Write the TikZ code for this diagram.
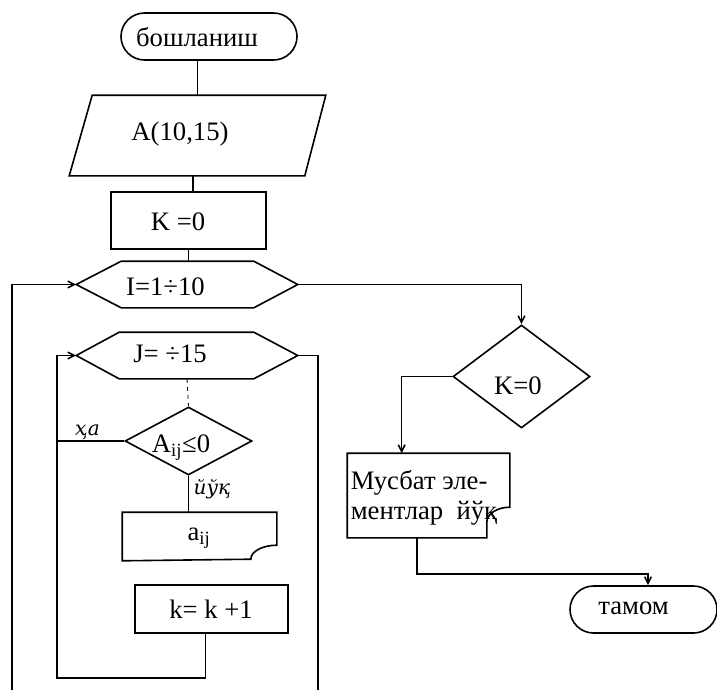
\documentclass[tikz,border=0pt]{standalone}
\usepackage{fontspec}
\setmainfont{Liberation Serif}
\newfontfamily\handfont{DejaVu Serif}
\usetikzlibrary{shapes.geometric,shapes.misc,arrows.meta,calc}

\begin{document}
\begin{tikzpicture}[x=0.75pt,y=-0.75pt,
  line width=1.2pt,
  >={Straight Barb[length=5pt,width=5pt]},
  box/.style={draw, rectangle, inner sep=0pt},
  frame/.style={rectangle, inner sep=0pt},
  term/.style={draw, rounded rectangle, inner sep=0pt},
  cond/.style={draw, diamond, inner sep=0pt},
  lbl/.style={inner sep=0pt, font=\fontsize{20}{24}\selectfont},
  hand/.style={inner sep=0pt, font=\handfont\itshape\fontsize{15}{17}\selectfont},
  faint/.style={line width=0.6pt, dash pattern=on 3pt off 3pt}
]
\fill[white] (0,0) rectangle (717,690);
\useasboundingbox (0,0) rectangle (717,690);

% start terminal
\node[term, minimum width=132pt, minimum height=35.25pt] (start) at (209,36.5) {};
\node[lbl] (startT) at (197,37) {бошланиш};

% input parallelogram
\node[frame, minimum width=191.25pt, minimum height=59.25pt] (inp) at (197.5,135.5) {};
\draw (inp.south west) -- ($(inp.north west)+(23,0)$) -- (inp.north east)
      -- ($(inp.south east)+(-21,0)$) -- cycle;
\node[lbl] (inpT) at (180,134) {A(10,15)};

% K = 0
\node[box, minimum width=116.25pt, minimum height=42.75pt] (k0) at (188.5,220.5) {};
\node[lbl] (k0T) at (178,222) {K =0};

% outer loop header
\node[frame, minimum width=165pt, minimum height=33.75pt] (iloop) at (187,284.5) {};
\draw (iloop.west) -- ($(iloop.north west)+(45,0)$) -- ($(iloop.north east)+(-44,0)$)
      -- (iloop.east) -- ($(iloop.south east)+(-44,0)$) -- ($(iloop.south west)+(45,0)$) -- cycle;
\node[lbl] (iloopT) at (165.5,287) {I=1÷10};

% inner loop header
\node[frame, minimum width=165pt, minimum height=33.75pt] (jloop) at (187,355.5) {};
\draw (jloop.west) -- ($(jloop.north west)+(43,0)$) -- ($(jloop.north east)+(-44,0)$)
      -- (jloop.east) -- ($(jloop.south east)+(-44,0)$) -- ($(jloop.south west)+(43,0)$) -- cycle;
\node[lbl] (jloopT) at (170,354) {J= ÷15};

% test A_ij <= 0
\node[cond, minimum width=95.25pt, minimum height=51pt] (aij) at (188.5,441) {};
\node[lbl] (aijT) at (181,448) {A\textsubscript{ij}≤0};

% output a_ij
\node[frame, minimum width=114.75pt, minimum height=35.25pt] (aijbox) at (199.5,536.5) {};
\draw (aijbox.south west) -- (aijbox.north west) -- (aijbox.north east)
      -- ($(aijbox.north east)+(0,33)$) arc[start angle=270, end angle=180, x radius=26, y radius=14]
      -- cycle;
\node[lbl] (aijboxT) at (199,538) {a\textsubscript{ij}};

% k = k + 1
\node[box, minimum width=114.75pt, minimum height=36pt] (kk) at (211.5,609) {};
\node[lbl] (kkT) at (211,609.5) {k= k +1};

% test K = 0
\node[cond, minimum width=102.75pt, minimum height=77.25pt] (kz) at (521.5,376.5) {};
\node[lbl] (kzT) at (518,386) {K=0};

% message output
\node[frame, minimum width=120.75pt, minimum height=62.25pt] (msg) at (428.5,495.5) {};
\draw (msg.south west) -- (msg.north west) -- (msg.north east)
      -- ($(msg.north east)+(0,54)$) arc[start angle=270, end angle=180, x radius=23, y radius=15]
      -- ($(msg.south east)+(-23,0)$) -- cycle;
\node[lbl, anchor=base west] (msgA) at (350,489) {Мусбат эле-};
\node[lbl, anchor=base west] (msgB) at (350,519) {ментлар\ \ йўқ};

% end terminal
\node[term, minimum width=110.25pt, minimum height=35.25pt] (end) at (643.5,609.5) {};
\node[lbl] (endT) at (633.5,608) {тамом};

% branch labels
\node[hand] (yes) at (87.5,432) {ҳа};
\node[hand] (no) at (212,489) {йўқ};

% free ends of the loop lines
\coordinate (ibot) at (12,690);
\coordinate (jbot) at (318,690);
\coordinate (jret) at (57,678);

% connectors
\draw (start.south -| inp.north) -- (inp.north);
\coordinate (c1) at ($(inp.south)+(-4.5,0)$);
\draw (c1) -- (c1 |- k0.north);
\draw (k0.south) -- (k0.south |- iloop.north);
\draw[->] (ibot) |- (iloop.west);
\draw[->] (iloop.east) -| (kz.north);
\coordinate (m1) at ($(msg.north west)!0.335!(msg.north east)$);
\draw[->] (kz.west) -| (m1);
\coordinate (m2) at ($(msg.south west)!0.43!(msg.south east)$);
\coordinate (m3) at ($(end.north)+(4.5,0)$);
\draw[->] (m2) -- ++(0,36) -| (m3);
\draw (jloop.east) -| (jbot);
\draw[faint] (jloop.south) -- (aij.north);
\draw (aij.west) -- (aij.west -| jret);
\draw (aij.south) -- (aij.south |- aijbox.north);
\coordinate (k1) at ($(kk.south west)!0.46!(kk.south east)$);
\draw[->] (k1) |- (jret) |- (jloop.west);
\end{tikzpicture}
\end{document}
